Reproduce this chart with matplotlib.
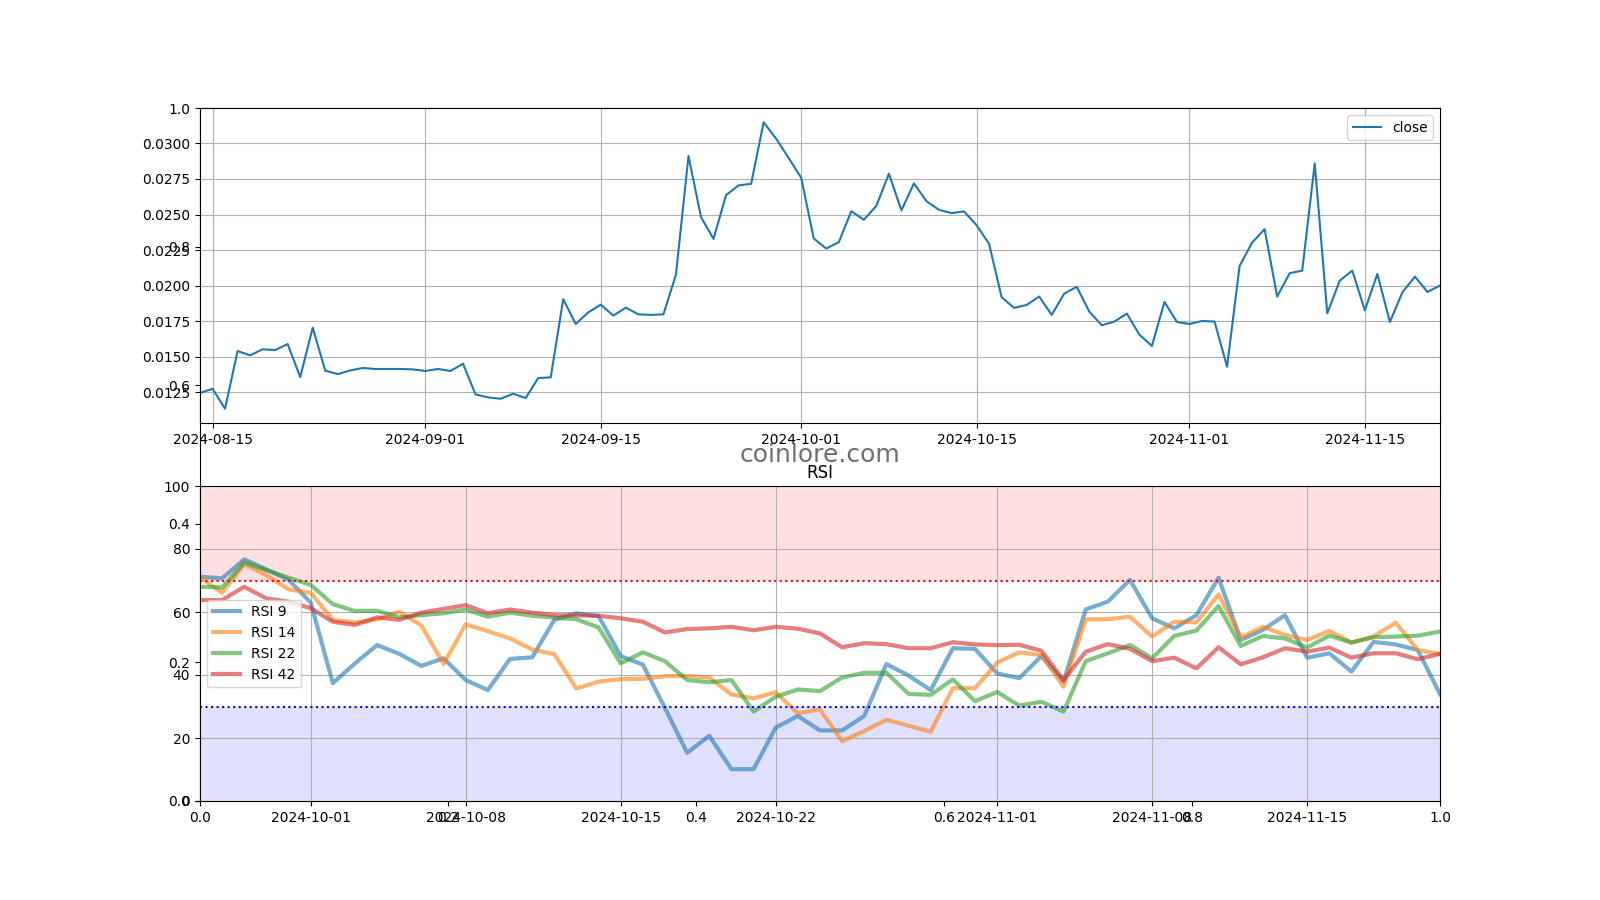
import matplotlib
matplotlib.use('Agg')
import matplotlib.pyplot as plt
import pandas as pd
import numpy as np

# daily close, 2024-08-14 .. 2024-11-21
close_dates = pd.date_range('2024-08-14', periods=100, freq='D')
close = [
    0.01246, 0.01276, 0.01136, 0.01541, 0.01511, 0.01553, 0.01548, 0.01590, 0.01358, 0.01705,
    0.01403, 0.01379, 0.01405, 0.01422, 0.01415, 0.01415, 0.01415, 0.01412, 0.01401, 0.01415,
    0.01401, 0.01452, 0.01236, 0.01215, 0.01206, 0.01241, 0.01211, 0.01351, 0.01356, 0.01905,
    0.01731, 0.01813, 0.01867, 0.01790, 0.01846, 0.01799, 0.01795, 0.01799, 0.02078, 0.02911,
    0.02482, 0.02329, 0.02636, 0.02705, 0.02716, 0.03148, 0.03033, 0.02897, 0.02758, 0.02332,
    0.02261, 0.02306, 0.02524, 0.02463, 0.02561, 0.02787, 0.02529, 0.02719, 0.02594, 0.02533,
    0.02510, 0.02522, 0.02425, 0.02294, 0.01919, 0.01844, 0.01865, 0.01924, 0.01795, 0.01945,
    0.01992, 0.01818, 0.01722, 0.01748, 0.01804, 0.01656, 0.01577, 0.01886, 0.01745, 0.01731,
    0.01752, 0.01748, 0.01431, 0.02139, 0.02303, 0.02397, 0.01924, 0.02088, 0.02106, 0.02859,
    0.01806, 0.02036, 0.02106, 0.01827, 0.02083, 0.01745, 0.01954, 0.02064, 0.01956, 0.02001,
]

# RSI, 2024-09-26 .. 2024-11-21
rsi_dates = pd.date_range('2024-09-26', periods=57, freq='D')
rsi_9 = [
    71.2, 70.7, 76.7, 73.5, 70.2, 63.0, 37.4, 43.7, 49.5, 46.7,
    42.9, 45.3, 38.4, 35.2, 45.1, 45.6, 57.5, 59.6, 58.7, 46.0,
    43.3, 29.5, 15.3, 20.7, 10.1, 10.1, 23.3, 27.0, 22.4, 22.4,
    27.0, 43.5, 39.8, 35.2, 48.5, 48.3, 40.5, 39.0, 46.0, 37.9,
    60.8, 63.3, 70.2, 58.0, 54.8, 59.0, 70.9, 51.1, 54.3, 59.0,
    45.5, 46.9, 41.1, 50.5, 49.7, 47.9, 33.9,
]
rsi_14 = [
    71.0, 66.1, 75.2, 71.7, 67.2, 66.1, 57.5, 56.7, 57.7, 60.1,
    55.7, 43.5, 56.1, 53.9, 51.6, 48.1, 46.6, 35.7, 37.9, 38.7,
    38.8, 39.6, 39.7, 39.2, 33.8, 32.6, 34.5, 27.8, 29.1, 19.0,
    22.2, 25.8, 23.9, 22.0, 35.8, 35.8, 43.9, 47.2, 46.3, 36.3,
    57.7, 57.7, 58.5, 52.2, 56.9, 56.7, 65.6, 51.9, 55.3, 52.7,
    51.1, 54.0, 50.3, 52.2, 56.6, 47.9, 46.7,
]
rsi_22 = [
    68.0, 67.8, 75.7, 73.3, 70.9, 68.6, 62.5, 60.3, 60.4, 58.3,
    59.0, 59.6, 60.8, 58.5, 59.8, 58.8, 58.2, 57.7, 55.1, 43.7,
    47.2, 44.4, 38.4, 37.7, 38.4, 28.4, 33.1, 35.4, 34.9, 39.2,
    40.7, 40.7, 34.0, 33.7, 38.6, 31.7, 34.6, 30.3, 31.5, 28.4,
    44.4, 46.9, 49.5, 45.3, 52.4, 54.1, 61.9, 49.2, 52.4, 51.6,
    48.7, 52.5, 50.3, 52.0, 52.2, 52.5, 53.8,
]
rsi_42 = [
    63.8, 63.8, 68.0, 64.3, 63.3, 61.2, 56.9, 55.9, 58.3, 57.5,
    59.8, 61.0, 62.2, 59.6, 60.8, 59.8, 59.0, 58.9, 58.8, 58.0,
    56.9, 53.5, 54.6, 54.8, 55.3, 54.2, 55.3, 54.7, 53.2, 48.8,
    50.1, 49.8, 48.5, 48.5, 50.4, 49.7, 49.5, 49.6, 47.7, 38.4,
    47.4, 49.8, 48.3, 44.4, 45.5, 42.1, 48.8, 43.4, 45.6, 48.5,
    47.4, 48.7, 45.5, 46.9, 46.9, 45.0, 46.7,
]
rsi_series = [('RSI 9', rsi_9), ('RSI 14', rsi_14), ('RSI 22', rsi_22), ('RSI 42', rsi_42)]

fig = plt.figure(figsize=(16, 9), dpi=100)

# background axes carrying the watermark
base = fig.add_subplot(111)
base.text(0.5, 0.5, 'coinlore.com', transform=base.transAxes, ha='center', va='center',
          fontsize=18, color='#6e6e6e')

ax1 = fig.add_subplot(211)
ax1.plot(close_dates, close, label='close')
ax1.set_xlim(close_dates[0], close_dates[-1])
ax1.legend(loc='upper right')
ax1.grid(True)

ax2 = fig.add_subplot(212)
ax2.axhspan(70, 100, color='red', alpha=0.12, linewidth=0)
ax2.axhspan(0, 30, color='blue', alpha=0.12, linewidth=0)
for name, vals in rsi_series:
    ax2.plot(rsi_dates, vals, label=name, linewidth=3, alpha=0.6)
ax2.axhline(70, color='red', linestyle=':', linewidth=1.5)
ax2.axhline(30, color='blue', linestyle=':', linewidth=1.5)
ax2.set_ylim(0, 100)
ax2.set_xlim(rsi_dates[0], rsi_dates[-1])
ax2.set_title('RSI')
ax2.legend(loc='center left')
ax2.grid(True)

plt.savefig('out.png')
plt.close()
